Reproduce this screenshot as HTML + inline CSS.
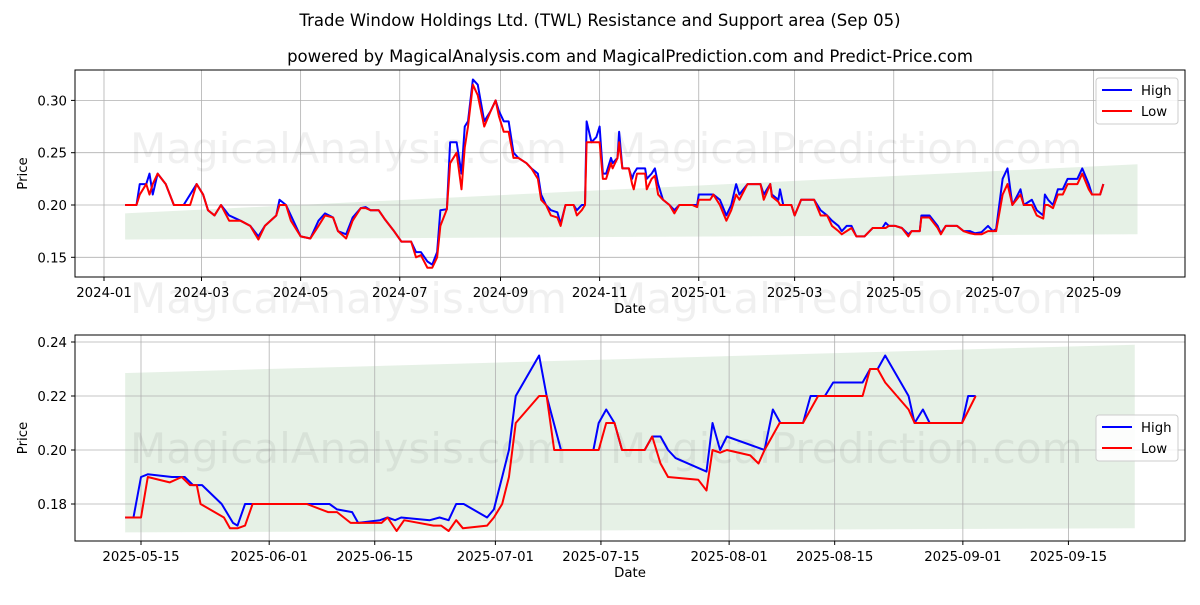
<!DOCTYPE html>
<html><head><meta charset="utf-8"><style>
body{margin:0;background:#fff;font-family:"Liberation Sans","DejaVu Sans",sans-serif}
svg text{font-family:"DejaVu Sans","Liberation Sans",sans-serif}
</style></head><body>
<svg id="c" width="1200" height="600" xmlns="http://www.w3.org/2000/svg">
<text x="600" y="26" text-anchor="middle" font-size="16.5">Trade Window Holdings Ltd. (TWL) Resistance and Support area (Sep 05)</text>
<text x="630" y="62" text-anchor="middle" font-size="16.5">powered by MagicalAnalysis.com and MagicalPrediction.com and Predict-Price.com</text>
</svg>
<script>
// ---- top chart data (days since 2024-01-01) ----
const topDays=[13,20,22,26,28,30,33,38,43,49,53,57,61,64,68,72,77,84,90,95,99,106,108,112,115,121,127,132,136,141,144,149,153,158,161,164,169,173,178,183,189,192,195,199,202,205,207,211,213,217,220,222,224,227,230,234,238,241,243,246,249,252,255,260,263,267,269,272,275,279,281,284,289,291,294,296,297,300,303,305,307,309,312,313,316,317,319,323,325,326,328,333,334,337,339,341,344,348,351,354,362,365,366,373,375,379,383,386,389,391,396,404,406,410,411,415,416,418,423,425,429,437,441,445,448,452,454,457,460,463,468,473,479,481,483,487,491,495,497,502,503,508,513,515,518,525,529,533,536,540,544,547,549,553,556,559,564,566,571,574,578,579,581,584,587,590,593,599,602,606,608,613,615];
const topHigh=[0.20,0.20,0.22,0.22,0.23,0.21,0.23,0.22,0.20,0.20,0.21,0.22,0.21,0.195,0.19,0.20,0.19,0.185,0.18,0.17,0.18,0.19,0.205,0.20,0.19,0.17,0.168,0.185,0.192,0.188,0.175,0.172,0.188,0.197,0.198,0.195,0.195,0.186,0.176,0.165,0.165,0.155,0.155,0.146,0.143,0.155,0.195,0.196,0.26,0.26,0.23,0.275,0.28,0.32,0.315,0.28,0.29,0.30,0.29,0.28,0.28,0.25,0.245,0.24,0.235,0.23,0.21,0.20,0.195,0.193,0.182,0.20,0.20,0.195,0.20,0.20,0.28,0.26,0.265,0.275,0.23,0.23,0.245,0.24,0.245,0.27,0.235,0.235,0.225,0.23,0.235,0.235,0.225,0.23,0.235,0.22,0.205,0.20,0.195,0.20,0.20,0.20,0.21,0.21,0.21,0.205,0.19,0.20,0.22,0.21,0.22,0.22,0.21,0.22,0.21,0.205,0.215,0.20,0.20,0.19,0.205,0.205,0.195,0.19,0.185,0.18,0.175,0.18,0.18,0.17,0.17,0.178,0.178,0.183,0.18,0.18,0.178,0.172,0.175,0.175,0.19,0.19,0.18,0.173,0.18,0.18,0.175,0.175,0.173,0.174,0.18,0.175,0.177,0.225,0.235,0.20,0.215,0.20,0.205,0.195,0.19,0.21,0.205,0.20,0.215,0.215,0.225,0.225,0.235,0.22,0.21,0.21,0.22];
const topLow=[0.20,0.20,0.21,0.22,0.21,0.22,0.23,0.22,0.20,0.20,0.20,0.22,0.21,0.195,0.19,0.20,0.185,0.185,0.18,0.167,0.18,0.19,0.20,0.20,0.185,0.17,0.168,0.18,0.19,0.188,0.175,0.168,0.185,0.197,0.197,0.195,0.195,0.186,0.176,0.165,0.165,0.15,0.152,0.14,0.14,0.15,0.18,0.196,0.24,0.25,0.215,0.255,0.275,0.315,0.305,0.275,0.29,0.30,0.285,0.27,0.27,0.245,0.245,0.24,0.235,0.225,0.205,0.20,0.19,0.188,0.18,0.20,0.20,0.19,0.195,0.20,0.26,0.26,0.26,0.26,0.225,0.225,0.24,0.235,0.245,0.26,0.235,0.235,0.22,0.215,0.23,0.23,0.215,0.225,0.228,0.21,0.205,0.20,0.192,0.20,0.20,0.198,0.205,0.205,0.21,0.20,0.185,0.195,0.21,0.205,0.22,0.22,0.205,0.22,0.208,0.203,0.20,0.20,0.20,0.19,0.205,0.205,0.19,0.19,0.18,0.175,0.172,0.175,0.178,0.17,0.17,0.178,0.178,0.178,0.18,0.18,0.178,0.17,0.175,0.175,0.188,0.188,0.178,0.172,0.18,0.18,0.175,0.173,0.172,0.172,0.175,0.175,0.175,0.21,0.22,0.20,0.21,0.20,0.20,0.19,0.187,0.20,0.20,0.197,0.21,0.21,0.22,0.22,0.23,0.215,0.21,0.21,0.22];
const topBand=[[13,0.167,0.192],[636,0.172,0.239]];
const topXTicks=["2024-01","2024-03","2024-05","2024-07","2024-09","2024-11","2025-01","2025-03","2025-05","2025-07","2025-09"];
const topXTickDays=[0,60,121,182,244,305,366,425,486,547,609];
const topYTicks=[0.15,0.20,0.25,0.30];
// ---- bottom chart data (days since 2025-05-15) ----
const botHighDays=[-2.1,-1.0,0,0.9,4.1,5.8,6.9,8.1,10.7,12.2,12.8,13.8,15.1,25.0,26.0,28.0,28.8,31.7,32.7,33.7,34.5,38.3,39.6,40.8,41.8,42.8,45.9,46.8,47.9,48.8,49.7,52.8,53.8,55.7,60.0,60.7,61.7,62.8,63.8,66.8,67.8,68.9,69.9,70.9,75.0,75.8,76.8,77.7,82.7,83.8,84.8,87.8,88.8,90.7,91.8,95.7,96.7,97.7,98.7,101.8,102.6,103.7,104.6,108.9,109.7,110.7];
const botHigh=[0.175,0.175,0.19,0.191,0.19,0.19,0.187,0.187,0.18,0.173,0.172,0.18,0.18,0.18,0.178,0.177,0.173,0.174,0.175,0.174,0.175,0.174,0.175,0.174,0.18,0.18,0.175,0.178,0.19,0.20,0.22,0.235,0.22,0.20,0.20,0.21,0.215,0.21,0.20,0.20,0.205,0.205,0.20,0.197,0.192,0.21,0.20,0.205,0.20,0.215,0.21,0.21,0.22,0.22,0.225,0.225,0.23,0.23,0.235,0.22,0.21,0.215,0.21,0.21,0.22,0.22];
const botLowDays=[-2.1,0,0.9,3.8,5.4,6.5,7.4,7.9,11.0,11.8,12.8,13.8,14.8,22.0,24.8,26.0,27.8,31.9,32.7,33.9,34.9,38.8,39.8,40.8,41.8,42.7,45.9,46.8,47.9,48.8,49.7,52.8,53.8,54.8,60.7,61.7,62.8,63.8,66.8,67.8,68.9,69.9,73.9,75.0,75.8,76.8,77.7,80.8,81.9,82.7,84.7,87.8,89.8,95.7,96.7,97.7,98.7,101.8,102.6,108.9,110.7];
const botLow=[0.175,0.175,0.19,0.188,0.19,0.187,0.187,0.18,0.175,0.171,0.171,0.172,0.18,0.18,0.177,0.177,0.173,0.173,0.175,0.17,0.174,0.172,0.172,0.17,0.174,0.171,0.172,0.175,0.18,0.19,0.21,0.22,0.22,0.20,0.20,0.21,0.21,0.20,0.20,0.205,0.195,0.19,0.189,0.185,0.20,0.199,0.20,0.198,0.195,0.20,0.21,0.21,0.22,0.22,0.23,0.23,0.225,0.215,0.21,0.21,0.22];
const botBand=[[-2.1,0.1695,0.2285],[131.8,0.171,0.239]];
const botXTicks=["2025-05-15","2025-06-01","2025-06-15","2025-07-01","2025-07-15","2025-08-01","2025-08-15","2025-09-01","2025-09-15"];
const botXTickDays=[0,17,31,47,61,78,92,109,123];
const botYTicks=[0.18,0.20,0.22,0.24];

const svg=document.getElementById('c');const NS='http://www.w3.org/2000/svg';
function mk(t,a,p){const e=document.createElementNS(NS,t);for(const k in a)e.setAttribute(k,a[k]);(p||svg).appendChild(e);return e;}
const FS=13.3;
function panel(o){
  const g=mk('g',{});
  
  
  const X=d=>o.x0+d*o.pxd, Y=v=>o.yRef-(v-o.vRef)*o.pxv;
  const b=o.band;
  const band=mk('polygon',{points:`${X(b[0][0])},${Y(b[0][2])} ${X(b[1][0])},${Y(b[1][2])} ${X(b[1][0])},${Y(b[1][1])} ${X(b[0][0])},${Y(b[0][1])}`,fill:'#2e8b2e','fill-opacity':0.12},g);
  
  
  o.xt.forEach((t,i)=>{const x=X(o.xd[i]);
    mk('line',{x1:x,x2:x,y1:o.top,y2:o.bot,stroke:'#b0b0b0','stroke-width':0.8},g);
    mk('line',{x1:x,x2:x,y1:o.bot,y2:o.bot+4,stroke:'#000'},g);
    const tx=mk('text',{x:x,y:o.bot+20,'text-anchor':'middle','font-size':FS},g);tx.textContent=t;
    
    });
  o.yt.forEach(v=>{const y=Y(v);
    mk('line',{x1:o.left,x2:o.right,y1:y,y2:y,stroke:'#b0b0b0','stroke-width':0.8},g);
    mk('line',{x1:o.left-4,x2:o.left,y1:y,y2:y,stroke:'#000'},g);
    const tx=mk('text',{x:o.left-8,y:y+5,'text-anchor':'end','font-size':FS},g);tx.textContent=v.toFixed(o.dec);
    
    });
  o.wm.forEach(w=>{const t=mk('text',{x:w[0],y:w[1],'font-size':42,fill:'#000','fill-opacity':0.06},g);t.textContent=w[2];
    
    });
  [[o.hd,o.h,'#0000ff','high-line'],[o.ld,o.l,'#ff0000','low-line']].forEach(s=>{
    const p=mk('polyline',{points:s[0].map((d,i)=>X(d)+','+Y(s[1][i])).join(' '),fill:'none',stroke:s[2],'stroke-width':2,'stroke-linejoin':'round'},g);
    
    });
  mk('rect',{x:o.left,y:o.top,width:o.right-o.left,height:o.bot-o.top,fill:'none',stroke:'#000','stroke-width':1},g);
  const xl=mk('text',{x:(o.left+o.right)/2,y:o.bot+36,'text-anchor':'middle','font-size':FS},g);xl.textContent='Date';
  
  
  const cy=(o.top+o.bot)/2;
  const yl=mk('text',{x:27,y:cy,'text-anchor':'middle','font-size':FS,transform:`rotate(-90 27 ${cy})`},g);yl.textContent='Price';
  
  
  const lg=mk('g',{},g);
  
  
  mk('rect',{x:1096,y:o.lgY,width:82,height:46,rx:3,fill:'#fff','fill-opacity':0.85,stroke:'#ccc'},lg);
  [['High','#0000ff'],['Low','#ff0000']].forEach((e,i)=>{const y=o.lgY+12+i*21;
    mk('line',{x1:1102,x2:1132,y1:y,y2:y,stroke:e[1],'stroke-width':2},lg);
    const t=mk('text',{x:1141,y:y+5,'font-size':FS},lg);t.textContent=e[0];
    
    });
}
panel({name:'top-chart',left:75,right:1185,top:70,bot:277,x0:104,pxd:1.625,yRef:205,vRef:0.20,pxv:1046,band:topBand,
  xt:topXTicks,xd:topXTickDays,yt:topYTicks,dec:2,hd:topDays,h:topHigh,ld:topDays,l:topLow,lgY:78,
  wm:[[130,163,'MagicalAnalysis.com'],[610,163,'MagicalPrediction.com'],[130,313,'MagicalAnalysis.com'],[610,313,'MagicalPrediction.com']]});
panel({name:'bottom-chart',left:75,right:1185,top:335,bot:541,x0:141,pxd:7.54,yRef:450,vRef:0.20,pxv:2700,band:botBand,
  xt:botXTicks,xd:botXTickDays,yt:botYTicks,dec:2,hd:botHighDays,h:botHigh,ld:botLowDays,l:botLow,lgY:415,
  wm:[[130,463,'MagicalAnalysis.com'],[610,463,'MagicalPrediction.com']]});
</script>
</body></html>
